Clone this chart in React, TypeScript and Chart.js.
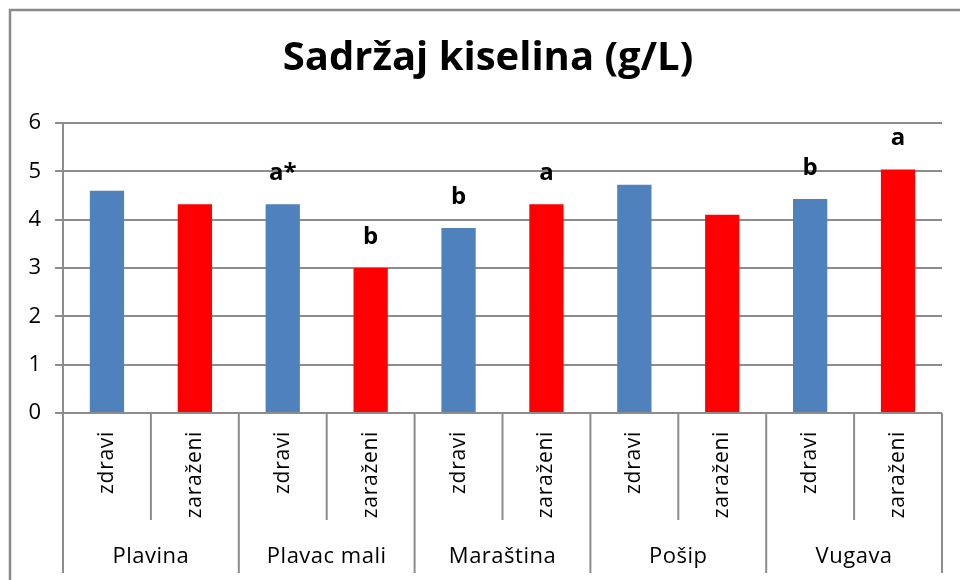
import React, { useEffect, useRef } from "react";
import { Chart, registerables } from "chart.js";

Chart.register(...registerables);

const titleText = "Sadržaj kiselina (g/L)";
const groups = ["Plavina", "Plavac mali", "Maraština", "Pošip", "Vugava"];
const subLabels = ["zdravi", "zaraženi"];
const zdraviValues = [4.6, 4.32, 3.83, 4.72, 4.43];
const zarazeniValues = [4.32, 3.0, 4.32, 4.1, 5.04];
const zdraviLetters = ["", "a*", "b", "", "b"];
const zarazeniLetters = ["", "b", "a", "", "a"];
const yTicks = [0, 1, 2, 3, 4, 5, 6];

const BLUE = "#4F81BD";
const RED = "#FF0000";
const GRID = "#8c8c8c";
const FONT = "'Open Sans', Lato, sans-serif";

export default function App() {
  const ref = useRef<HTMLCanvasElement | null>(null);

  useEffect(() => {
    const canvas = ref.current;
    if (!canvas) return;

    const labels: string[] = [];
    const values: number[] = [];
    const colors: string[] = [];
    const letters: string[] = [];
    groups.forEach((g, gi) => {
      labels.push(g + " " + subLabels[0]);
      values.push(zdraviValues[gi]);
      colors.push(BLUE);
      letters.push(zdraviLetters[gi]);
      labels.push(g + " " + subLabels[1]);
      values.push(zarazeniValues[gi]);
      colors.push(RED);
      letters.push(zarazeniLetters[gi]);
    });

    const decor = {
      id: "decor",
      beforeDraw(chart: any) {
        const ctx = chart.ctx;
        ctx.save();
        ctx.fillStyle = "#ffffff";
        ctx.fillRect(0, 0, chart.width, chart.height);
        ctx.strokeStyle = "#8a8a8a";
        ctx.lineWidth = 2.5;
        ctx.beginPath();
        ctx.moveTo(10, chart.height);
        ctx.lineTo(10, 10);
        ctx.lineTo(chart.width, 10);
        ctx.stroke();
        // title, centred on the outer frame
        ctx.fillStyle = "#000";
        ctx.font = "bold 40px " + FONT;
        ctx.textAlign = "center";
        ctx.textBaseline = "middle";
        ctx.fillText(titleText, chart.width / 2 + 8, 59);
        ctx.restore();
      },
      afterDraw(chart: any) {
        const ctx = chart.ctx;
        const xs = chart.scales.x;
        const area = chart.chartArea;
        const n = labels.length;
        ctx.save();
        ctx.strokeStyle = GRID;
        ctx.lineWidth = 2;
        for (let i = 0; i <= n; i++) {
          let x: number;
          if (i === 0) x = area.left;
          else if (i === n) x = area.right;
          else x = (xs.getPixelForValue(i - 1) + xs.getPixelForValue(i)) / 2;
          const yEnd = i % 2 === 0 ? area.bottom + 160 : area.bottom + 107;
          ctx.beginPath();
          ctx.moveTo(x, area.bottom);
          ctx.lineTo(x, yEnd);
          ctx.stroke();
        }
        ctx.fillStyle = "#000";
        ctx.font = "21px " + FONT;
        (ctx as any).letterSpacing = "0.7px";
        for (let i = 0; i < n; i++) {
          const x = xs.getPixelForValue(i);
          ctx.save();
          ctx.translate(x, area.bottom + 18);
          ctx.rotate(-Math.PI / 2);
          ctx.textAlign = "right";
          ctx.textBaseline = "middle";
          ctx.fillText(subLabels[i % 2], 0, 0);
          ctx.restore();
        }
        ctx.font = "22px " + FONT;
        (ctx as any).letterSpacing = "0.5px";
        ctx.textAlign = "center";
        ctx.textBaseline = "middle";
        groups.forEach((g, gi) => {
          const x = (xs.getPixelForValue(gi * 2) + xs.getPixelForValue(gi * 2 + 1)) / 2;
          ctx.fillText(g, x, area.bottom + 144);
        });
        (ctx as any).letterSpacing = "0px";
        const meta = chart.getDatasetMeta(0);
        ctx.font = "bold 24px " + FONT;
        ctx.textBaseline = "alphabetic";
        meta.data.forEach((el: any, i: number) => {
          if (!letters[i]) return;
          ctx.fillText(letters[i], el.x, el.y - 24);
        });
        ctx.restore();
      },
    };

    const chart = new Chart(canvas, {
      type: "bar",
      data: {
        labels,
        datasets: [
          {
            data: values,
            backgroundColor: colors,
            borderWidth: 0,
            categoryPercentage: 1,
            barPercentage: 0.39,
          },
        ],
      },
      options: {
        responsive: false,
        animation: false,
        layout: { padding: { left: 16, right: 18, top: 123, bottom: 0 } },
        plugins: {
          legend: { display: false },
          tooltip: { enabled: false },
          title: { display: false },
        },
        scales: {
          x: {
            type: "category",
            ticks: { display: false },
            grid: { display: false, drawTicks: false },
            border: { display: false },
            afterFit(scale: any) {
              scale.height = 167;
            },
          },
          y: {
            min: 0,
            max: 6,
            afterBuildTicks(scale: any) {
              scale.ticks = yTicks.map((v) => ({ value: v }));
            },
            ticks: {
              color: "#000",
              font: { family: FONT, size: 22 },
              padding: 14,
            },
            grid: { color: GRID, lineWidth: 2, tickLength: 8, drawTicks: true },
            border: { display: true, color: GRID, width: 2 },
            afterFit(scale: any) {
              scale.width = 47;
            },
          },
        },
      },
      plugins: [decor],
    });

    return () => chart.destroy();
  }, []);

  return (
    <div style={{ position: "fixed", left: 0, top: 0, width: 960, height: 580, background: "#fff" }}>
      <canvas ref={ref} width={960} height={580} />
    </div>
  );
}
